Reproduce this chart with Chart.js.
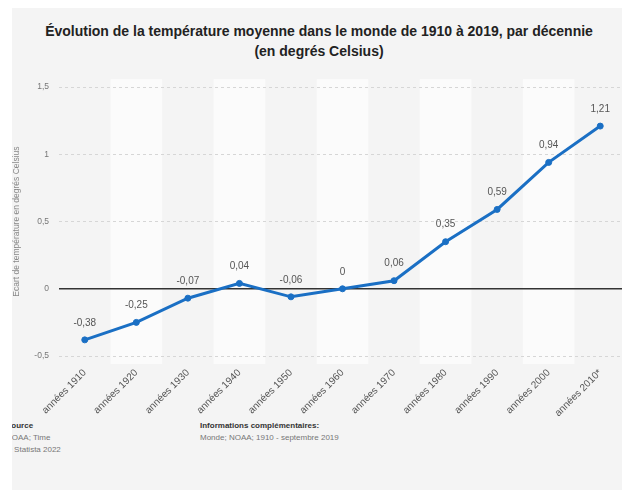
<!DOCTYPE html>
<html lang="fr">
<head>
  <meta charset="UTF-8">
  <title>Évolution de la température moyenne dans le monde</title>
  <script src="https://cdn.jsdelivr.net/npm/chart.js"></script>
  <style>
    body { margin: 0; background: #fff; font-family: "Liberation Sans", Arial, sans-serif; }
    .box { position: absolute; left: 12px; top: 8px; width: 610px; height: 482px; background: #f4f4f4; overflow: hidden; }
    h1 { position: absolute; left: 0; width: 614px; top: 13px; margin: 0; text-align: center;
         font-size: 14px; line-height: 20px; color: #222; font-weight: bold; }
    .chartWrap { position: absolute; left: 0; top: 64px; width: 618px; height: 346px; }
    .foot { position: absolute; top: 412px; font-size: 8px; line-height: 12px; color: #777; }
    .foot b { color: #333; }
  </style>
</head>
<body>
<div class="box">
  <h1>Évolution de la température moyenne dans le monde de 1910 à 2019, par décennie<br>(en degrés Celsius)</h1>
  <div class="chartWrap"><canvas id="tempChart" width="618" height="346"></canvas></div>
  <div class="foot" style="left:-6px"><b>Source</b><br>NOAA; Time<br>© Statista 2022</div>
  <div class="foot" style="left:188px"><b>Informations complémentaires:</b><br>Monde; NOAA; 1910 - septembre 2019</div>
</div>
<script>
  // decades and mean temperature gap (°C)
  var decades = ['années 1910', 'années 1920', 'années 1930', 'années 1940', 'années 1950',
                 'années 1960', 'années 1970', 'années 1980', 'années 1990', 'années 2000', 'années 2010*'];
  var ecart = [-0.38, -0.25, -0.07, 0.04, -0.06, 0, 0.06, 0.35, 0.59, 0.94, 1.21];
  var yTicks = [-0.5, 0, 0.5, 1, 1.5];

  function fr(v) { return String(v).replace('.', ','); }

  // white columns behind every other decade + zero line + value labels
  var backdrop = {
    id: 'backdrop',
    beforeDraw: function(chart) {
      var c = chart.ctx, a = chart.chartArea, x = chart.scales.x;
      var w = (a.right - a.left) / decades.length;
      c.save();
      c.fillStyle = '#fbfbfb';
      for (var i = 1; i < decades.length; i += 2) {
        c.fillRect(x.getPixelForValue(i) - w / 2, a.top - 8, w, a.bottom - a.top + 16);
      }
      c.restore();
    },
    beforeDatasetsDraw: function(chart) {
      var c = chart.ctx, a = chart.chartArea;
      var y0 = chart.scales.y.getPixelForValue(0);
      c.save();
      c.strokeStyle = '#333';
      c.lineWidth = 1.5;
      c.beginPath();
      c.moveTo(a.left, y0);
      c.lineTo(a.right, y0);
      c.stroke();
      c.restore();
    },
    afterDatasetsDraw: function(chart) {
      var c = chart.ctx;
      var pts = chart.getDatasetMeta(0).data;
      c.save();
      c.font = '10px "Liberation Sans", Arial, sans-serif';
      c.fillStyle = '#555';
      c.textAlign = 'center';
      c.textBaseline = 'bottom';
      pts.forEach(function(p, i) {
        c.fillText(fr(ecart[i]), p.x, p.y - 12);
      });
      c.restore();
    }
  };

  new Chart(document.getElementById('tempChart'), {
    type: 'line',
    data: {
      labels: decades,
      datasets: [{
        data: ecart,
        borderColor: '#1a6fc4',
        backgroundColor: '#1a6fc4',
        borderWidth: 3,
        pointRadius: 3,
        pointBorderWidth: 1,
        pointHoverRadius: 3,
        tension: 0
      }]
    },
    plugins: [backdrop],
    options: {
      responsive: false,
      animation: false,
      layout: { padding: { top: 10, right: 0, left: 0, bottom: 0 } },
      plugins: { legend: { display: false }, tooltip: { enabled: false } },
      scales: {
        x: {
          offset: true,
          grid: { display: false },
          border: { display: false },
          ticks: {
            autoSkip: false, maxRotation: 45, minRotation: 45,
            color: '#555', font: { size: 10, family: '"Liberation Sans", Arial, sans-serif' }
          },
          afterFit: function(s) { s.height = 62; s.paddingRight = 0; s.paddingLeft = 0; }
        },
        y: {
          min: -0.5, max: 1.5,
          afterBuildTicks: function(s) { s.ticks = yTicks.map(function(v) { return { value: v }; }); },
          border: { display: false, dash: [3, 3] },
          grid: {
            drawTicks: false,
            color: function(ctx) { return ctx.tick && ctx.tick.value === 0 ? 'rgba(0,0,0,0)' : '#d6d6d6'; }
          },
          ticks: {
            padding: 10,
            color: '#777', font: { size: 8.5, family: '"Liberation Sans", Arial, sans-serif' },
            callback: function(v) { return fr(v); }
          },
          title: {
            display: true, text: 'Écart de température en degrés Celsius',
            color: '#888', font: { size: 8.5, family: '"Liberation Sans", Arial, sans-serif' },
            padding: { top: 0, bottom: 2 }
          },
          afterFit: function(s) { s.width = 47; }
        }
      }
    }
  });
</script>
</body>
</html>
